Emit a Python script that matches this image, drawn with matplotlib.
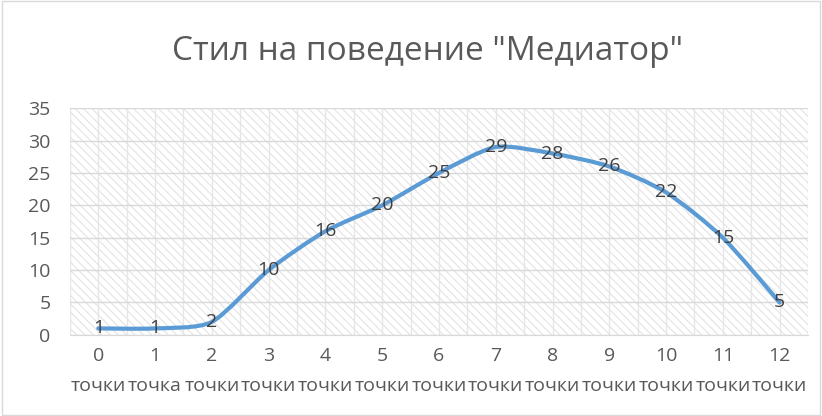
import numpy as np
import matplotlib
matplotlib.use("Agg")
import matplotlib.pyplot as plt
from matplotlib.path import Path
from matplotlib.patches import PathPatch, Rectangle

# -- Donnees --
TITLE = 'Стил на поведение "Медиатор"'
points = [0, 1, 2, 3, 4, 5, 6, 7, 8, 9, 10, 11, 12]
words = ["точки", "точка", "точки", "точки", "точки", "точки", "точки",
         "точки", "точки", "точки", "точки", "точки", "точки"]
values = [1, 1, 2, 10, 16, 20, 25, 29, 28, 26, 22, 15, 5]

LINE_COLOR = "#5B9BD5"
TEXT_COLOR = "#595959"
GRID_COLOR = "#D9D9D9"

plt.rcParams["font.family"] = ["Open Sans", "DejaVu Sans"]
plt.rcParams["hatch.linewidth"] = 0.8


def smooth_path(x, y, t=0.12):
    # courbe de Bezier type "ligne lissee"
    verts = [(x[0], y[0])]
    codes = [Path.MOVETO]
    n = len(x)
    for i in range(n - 1):
        x0, y0 = (x[i - 1], y[i - 1]) if i > 0 else (x[i], y[i])
        x3, y3 = (x[i + 2], y[i + 2]) if i + 2 < n else (x[i + 1], y[i + 1])
        c1 = (x[i] + (x[i + 1] - x0) * t, y[i] + (y[i + 1] - y0) * t)
        c2 = (x[i + 1] - (x3 - x[i]) * t, y[i + 1] - (y3 - y[i]) * t)
        verts += [c1, c2, (x[i + 1], y[i + 1])]
        codes += [Path.CURVE4] * 3
    return Path(verts, codes)


fig = plt.figure(figsize=(8.22, 4.16), dpi=100)
fig.patches.append(Rectangle((0.002, 0.002), 0.996, 0.996, transform=fig.transFigure,
                             fill=False, edgecolor=GRID_COLOR, linewidth=1))
ax = fig.add_axes([0.085, 0.195, 0.898, 0.545])

x = np.arange(len(values))
ax.set_xlim(-0.5, len(values) - 0.5)
ax.set_ylim(0, 35)

# fond hachure
bg = Rectangle((0, 0), 1, 1, transform=ax.transAxes, facecolor="white",
               edgecolor="#E3E3E3", hatch="\\\\\\\\", linewidth=0, zorder=0)
ax.add_patch(bg)

ax.set_yticks(range(0, 36, 5))
ax.grid(axis="y", color=GRID_COLOR, linewidth=1, zorder=1)
for xv in np.arange(-0.5, len(values), 0.5):
    ax.axvline(xv, color="#E6E6E6", linewidth=1, zorder=1)

ax.add_patch(PathPatch(smooth_path(x, values), facecolor="none", edgecolor=LINE_COLOR,
                       linewidth=3, capstyle="round", joinstyle="round", zorder=3))

for xi, v in zip(x, values):
    ax.text(xi, v, str(v), ha="center", va="center", fontsize=14,
            color="#404040", zorder=4)

ax.set_xticks(x)
ax.set_xticklabels([f"{p}\n{w}" for p, w in zip(points, words)],
                   fontsize=14, color=TEXT_COLOR, linespacing=1.85)
ax.tick_params(axis="x", length=0, pad=9)
ax.tick_params(axis="y", length=0, labelsize=14, labelcolor=TEXT_COLOR, pad=14)

for s in ["top", "left", "right"]:
    ax.spines[s].set_visible(False)
ax.spines["bottom"].set_color(GRID_COLOR)

fig.text(0.52, 0.875, TITLE, ha="center", va="center", fontsize=24, color=TEXT_COLOR)

plt.savefig("out.png", dpi=100)
